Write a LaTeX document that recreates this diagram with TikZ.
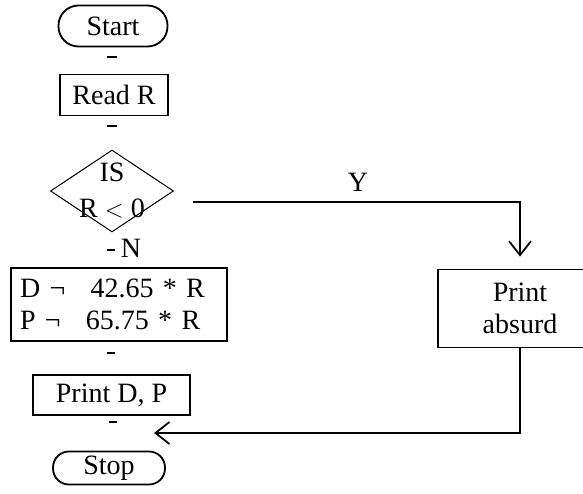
\documentclass[tikz,border=0pt]{standalone}
\usepackage{fontspec}
\setmainfont{Liberation Serif}
\usetikzlibrary{shapes.geometric,arrows.meta}

\begin{document}
\begin{tikzpicture}[x=1pt, y=-1pt, line width=1.8pt,
    font=\fontsize{28}{32}\selectfont,
    >={Straight Barb[length=14pt,width=22pt,line width=1.8pt]},
    terminal/.style={draw, rounded corners=#1, inner sep=0pt},
    process/.style={draw, inner sep=0pt},
    decision/.style={draw, diamond, inner sep=0pt, line width=1pt}]
    \useasboundingbox (0,0) rectangle (583,494);
    \clip (0,0) rectangle (583,494);
    % Start and read
    \node[terminal=20pt, minimum width=109pt, minimum height=41pt] (start) at (113,26) {Start};
    \node[process, minimum width=108pt, minimum height=41pt] (read) at (114,95) {Read R};
    % Test on R
    \node[decision, minimum width=123pt, minimum height=82pt] (test) at (112,191) {};
    \node[align=center, font=\fontsize{28}{36}\selectfont, inner sep=0pt] (testtext) at (112,191) {IS\\R $<$ 0};
    \node[inner sep=0pt] (no) at (131,248) {N};
    % Compute D and P
    \node[process, minimum height=73pt, align=left, text width=198pt, inner xsep=9pt] (calc) at (119,304.5)
        {D ¬\hspace{0.9em}42.65 * R\\P ¬\hspace{0.9em}65.75 * R};
    \node[process, minimum width=157pt, minimum height=40pt] (print) at (111.5,395) {Print D, P};
    \node[terminal=16pt, minimum width=112pt, minimum height=33pt] (stop) at (109,468) {Stop};
    % Error branch
    \node[process, minimum width=164pt, minimum height=78pt, align=center] (absurd) at (520,308.5) {Print\\absurd};
    \node[inner sep=0pt] (yes) at (358,182) {Y};
    % Broken flow marks
    \draw[line width=2pt] (107,57) -- (117,57);
    \draw[line width=2pt] (107,126) -- (117,126);
    \draw[line width=2pt] (107,250) -- (115,250);
    \draw[line width=2pt] (107,353) -- (115,353);
    \draw[line width=2pt] (109,422) -- (117,422);
    % Connectors
    \coordinate (ystart) at (193,202);
    \coordinate (back) at (154,433);
    \draw[->, shorten >=12pt] (ystart) -| (absurd.north);
    \draw[->] (absurd.south) |- (back);
\end{tikzpicture}
\end{document}
